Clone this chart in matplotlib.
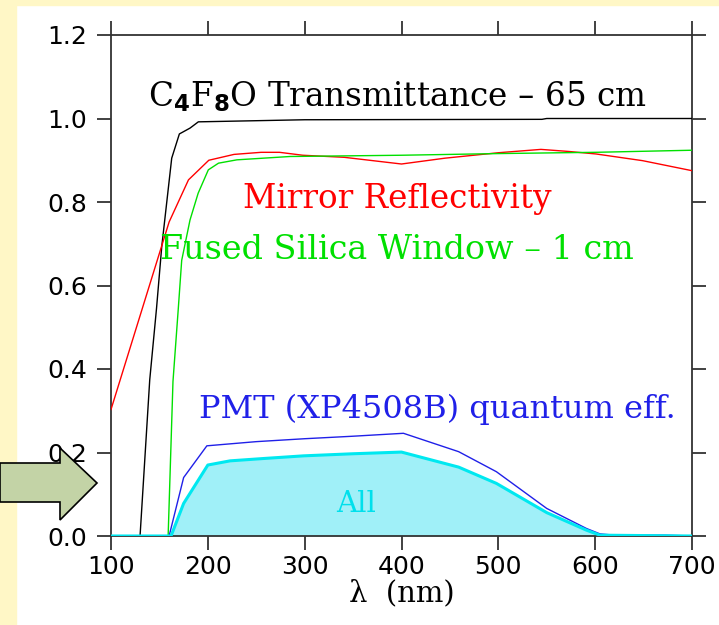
import matplotlib
matplotlib.use("Agg")
import matplotlib.pyplot as plt
from matplotlib.patches import Rectangle, Polygon

# ---- data ----
black_x = [100, 130, 140, 147, 152.4, 162.7, 170.6, 181.6, 190.2, 300, 545, 550, 700]
black_y = [0, 0, 0.374, 0.545, 0.693, 0.905, 0.963, 0.977, 0.992, 0.997, 0.998, 1.0, 1.0]

red_x = [100, 160, 180, 201, 227, 255, 274, 298, 341, 400, 445, 500, 544, 573, 601, 649, 700]
red_y = [0.303, 0.752, 0.853, 0.900, 0.914, 0.919, 0.919, 0.912, 0.907, 0.891, 0.905, 0.918,
         0.926, 0.921, 0.915, 0.899, 0.875]

green_x = [100, 159, 164, 169.5, 173, 181.6, 190, 200.5, 211, 230, 285, 400, 500, 600, 700]
green_y = [0, 0, 0.37, 0.545, 0.66, 0.757, 0.821, 0.877, 0.893, 0.901, 0.909, 0.912, 0.916, 0.919, 0.924]

blue_x = [100, 160, 175, 199, 250, 300, 350, 402, 459, 498, 550, 591, 605, 620, 672, 700]
blue_y = [0, 0, 0.14, 0.216, 0.226, 0.233, 0.239, 0.246, 0.202, 0.154, 0.066, 0.018, 0.005, 0.002, 0.002, 0]

all_x = [100, 162, 175, 200, 223, 260, 299, 350, 400, 459, 498, 550, 591, 605, 700]
all_y = [0, 0, 0.078, 0.170, 0.180, 0.186, 0.192, 0.197, 0.201, 0.165, 0.126, 0.056, 0.014, 0.002, 0]

xticks = [100, 200, 300, 400, 500, 600, 700]
yticks = [0.0, 0.2, 0.4, 0.6, 0.8, 1.0, 1.2]
ytick_labels = ["0.0", "0.2", "0.4", "0.6", "0.8", "1.0", "1.2"]

W, H = 719, 625
fig = plt.figure(figsize=(W / 100, H / 100), dpi=100)
fig.patch.set_facecolor("white")

# yellow slide strips
yellow = "#FFF7C6"
fig.patches.append(Rectangle((0, 0), 16 / W, 1, transform=fig.transFigure, color=yellow, zorder=0))
fig.patches.append(Rectangle((0, 1 - 5 / H), 1, 5 / H, transform=fig.transFigure, color=yellow, zorder=0))

ax = fig.add_axes([111 / W, 1 - 536 / H, 581 / W, 501 / H])
ax.set_xlim(100, 700)
ax.set_ylim(0, 1.2)

ax.fill_between(all_x, all_y, 0, color="#A0F0F8", lw=0, zorder=1)
ax.plot(black_x, black_y, color="black", lw=1.0, zorder=3)
ax.plot(red_x, red_y, color="#FF0000", lw=1.0, zorder=3)
ax.plot(green_x, green_y, color="#00E000", lw=1.0, zorder=3)
ax.plot(blue_x, blue_y, color="#2020E8", lw=1.0, zorder=3)
ax.plot(all_x, all_y, color="#00E8F0", lw=2.2, zorder=4)

ax.set_xticks(xticks)
ax.set_xticklabels([str(t) for t in xticks])
ax.set_yticks(yticks)
ax.set_yticklabels(ytick_labels)
ax.tick_params(axis="both", which="major", direction="out", length=10, width=1.3,
               color="#333333", labelsize=18, top=True, right=True)
ax.tick_params(axis="y", pad=7)
ax.tick_params(axis="x", pad=4)
for s in ax.spines.values():
    s.set_color("#333333")
    s.set_linewidth(1.3)

serif = "DejaVu Serif"
ax.set_xlabel("λ  (nm)", family=serif, fontsize=21, labelpad=0)

ax.text(138, 1.052, r"C$_\mathbf{4}$F$_\mathbf{8}$O Transmittance – 65 cm", family=serif,
        fontsize=23.5, color="black", va="center", ha="left")
ax.text(236, 0.807, "Mirror Reflectivity", family=serif, fontsize=23.5, color="#FF0000",
        va="center", ha="left")
ax.text(151, 0.685, "Fused Silica Window – 1 cm", family=serif, fontsize=24, color="#00E000",
        va="center", ha="left")
ax.text(191, 0.304, "PMT (XP4508B) quantum eff.", family=serif, fontsize=23, color="#2020E8",
        va="center", ha="left")
ax.text(353, 0.077, "All", family=serif, fontsize=21, color="#00E0EC", va="center", ha="center")

# decorative block arrow pointing at the chart
def px(x, y):
    return (x / W, 1 - y / H)

arrow_pts = [px(0, 463), px(60, 463), px(60, 448), px(97, 483), px(60, 520), px(60, 502), px(0, 502)]
fig.patches.append(Polygon(arrow_pts, closed=True, transform=fig.transFigure,
                           facecolor="#C3D3A6", edgecolor="black", lw=1.2, zorder=5))

fig.savefig("out.png", dpi=100)
